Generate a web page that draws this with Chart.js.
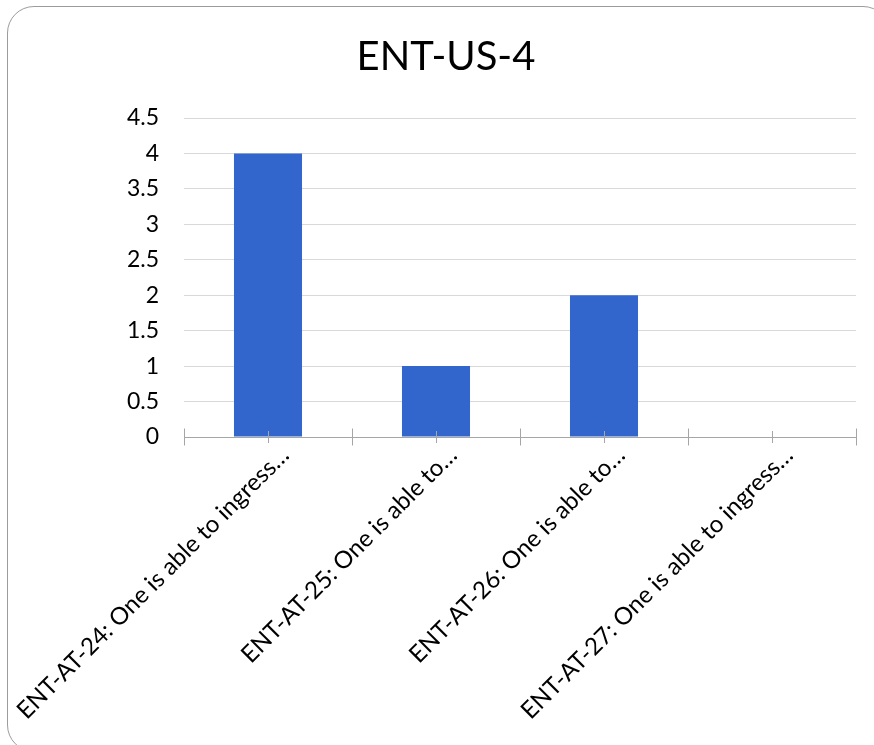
<!DOCTYPE html>
<html>
<head>
<meta charset="utf-8">
<script src="https://cdn.jsdelivr.net/npm/chart.js@4.4.1/dist/chart.umd.min.js"></script>
<style>
  html, body { margin: 0; padding: 0; background: #fff; overflow: hidden; }
  #wrap { position: relative; width: 874px; height: 745px; overflow: hidden; }
  #frame {
    position: absolute; left: 7px; top: 6px; width: 883px; height: 746px;
    border: 1.5px solid #9c9c9c; border-radius: 27px; box-sizing: border-box;
  }
  #c { position: absolute; left: 0; top: 0; }
</style>
</head>
<body>
<div id="wrap">
  <div id="frame"></div>
  <canvas id="c" width="874" height="745"></canvas>
</div>
<script>
// Chart content
const chartTitle = 'ENT-US-4';
const categories = [
  'ENT-AT-24: One is able to ingress…',
  'ENT-AT-25: One is able to…',
  'ENT-AT-26: One is able to…',
  'ENT-AT-27: One is able to ingress…'
];
const values = [4, 1, 2, 0];
const yMin = 0;
const yMax = 4.5;
const yStep = 0.5;

const FONT = 'Lato, "Open Sans", "DejaVu Sans", sans-serif';
const AXIS_COLOR = '#a6a6a6';

// Category-axis tick marks that cross the axis line: long ones on the
// category boundaries, shorter ones at each category centre.
const crossTicks = {
  id: 'crossTicks',
  afterDatasetsDraw(chart) {
    const xs = chart.scales.x;
    const ctx = chart.ctx;
    const y0 = xs.top;
    const n = xs.ticks.length;
    const step = n > 1 ? xs.getPixelForTick(1) - xs.getPixelForTick(0) : xs.width;
    ctx.save();
    ctx.strokeStyle = AXIS_COLOR;
    ctx.lineWidth = 1;
    ctx.beginPath();
    for (let i = 0; i <= n; i++) {
      const px = Math.round(xs.getPixelForTick(0) - step / 2 + i * step) + 0.5;
      ctx.moveTo(px, y0 - 8.5);
      ctx.lineTo(px, y0 + 8.5);
    }
    for (let i = 0; i < n; i++) {
      const px = Math.round(xs.getPixelForTick(i)) + 0.5;
      ctx.moveTo(px, y0 - 6);
      ctx.lineTo(px, y0 + 6);
    }
    ctx.stroke();
    ctx.restore();
  }
};

new Chart(document.getElementById('c'), {
  type: 'bar',
  data: {
    labels: categories,
    datasets: [{
      data: values,
      backgroundColor: '#3366CC',
      borderWidth: 0,
      barPercentage: 0.405,
      categoryPercentage: 1.0
    }]
  },
  options: {
    responsive: false,
    animation: false,
    layout: { padding: { left: 36, right: 18, top: 0, bottom: 0 } },
    plugins: {
      legend: { display: false },
      tooltip: { enabled: false },
      title: {
        display: true,
        text: chartTitle,
        color: '#000',
        font: { family: FONT, size: 40, weight: 'normal', lineHeight: 1.2 },
        padding: { top: 33, bottom: 37 }
      }
    },
    scales: {
      x: {
        grid: { display: false },
        border: { display: true, color: AXIS_COLOR, width: 1 },
        ticks: {
          color: '#000',
          font: { family: FONT, size: 24 },
          minRotation: 45,
          maxRotation: 45,
          autoSkip: false,
          labelOffset: 17,
          padding: -4
        },
        afterFit(scale) {
          scale.height = 308;
          scale.paddingLeft = 0;
          scale.paddingRight = 0;
        }
      },
      y: {
        min: yMin,
        max: yMax,
        grid: { color: '#d9d9d9', drawTicks: false, lineWidth: 1 },
        border: { display: false },
        ticks: {
          stepSize: yStep,
          color: '#000',
          font: { family: FONT, size: 23 },
          padding: 25,
          callback: (v) => String(v)
        },
        afterFit(scale) {
          scale.width = 148;
        }
      }
    }
  },
  plugins: [crossTicks]
});
</script>
</body>
</html>
